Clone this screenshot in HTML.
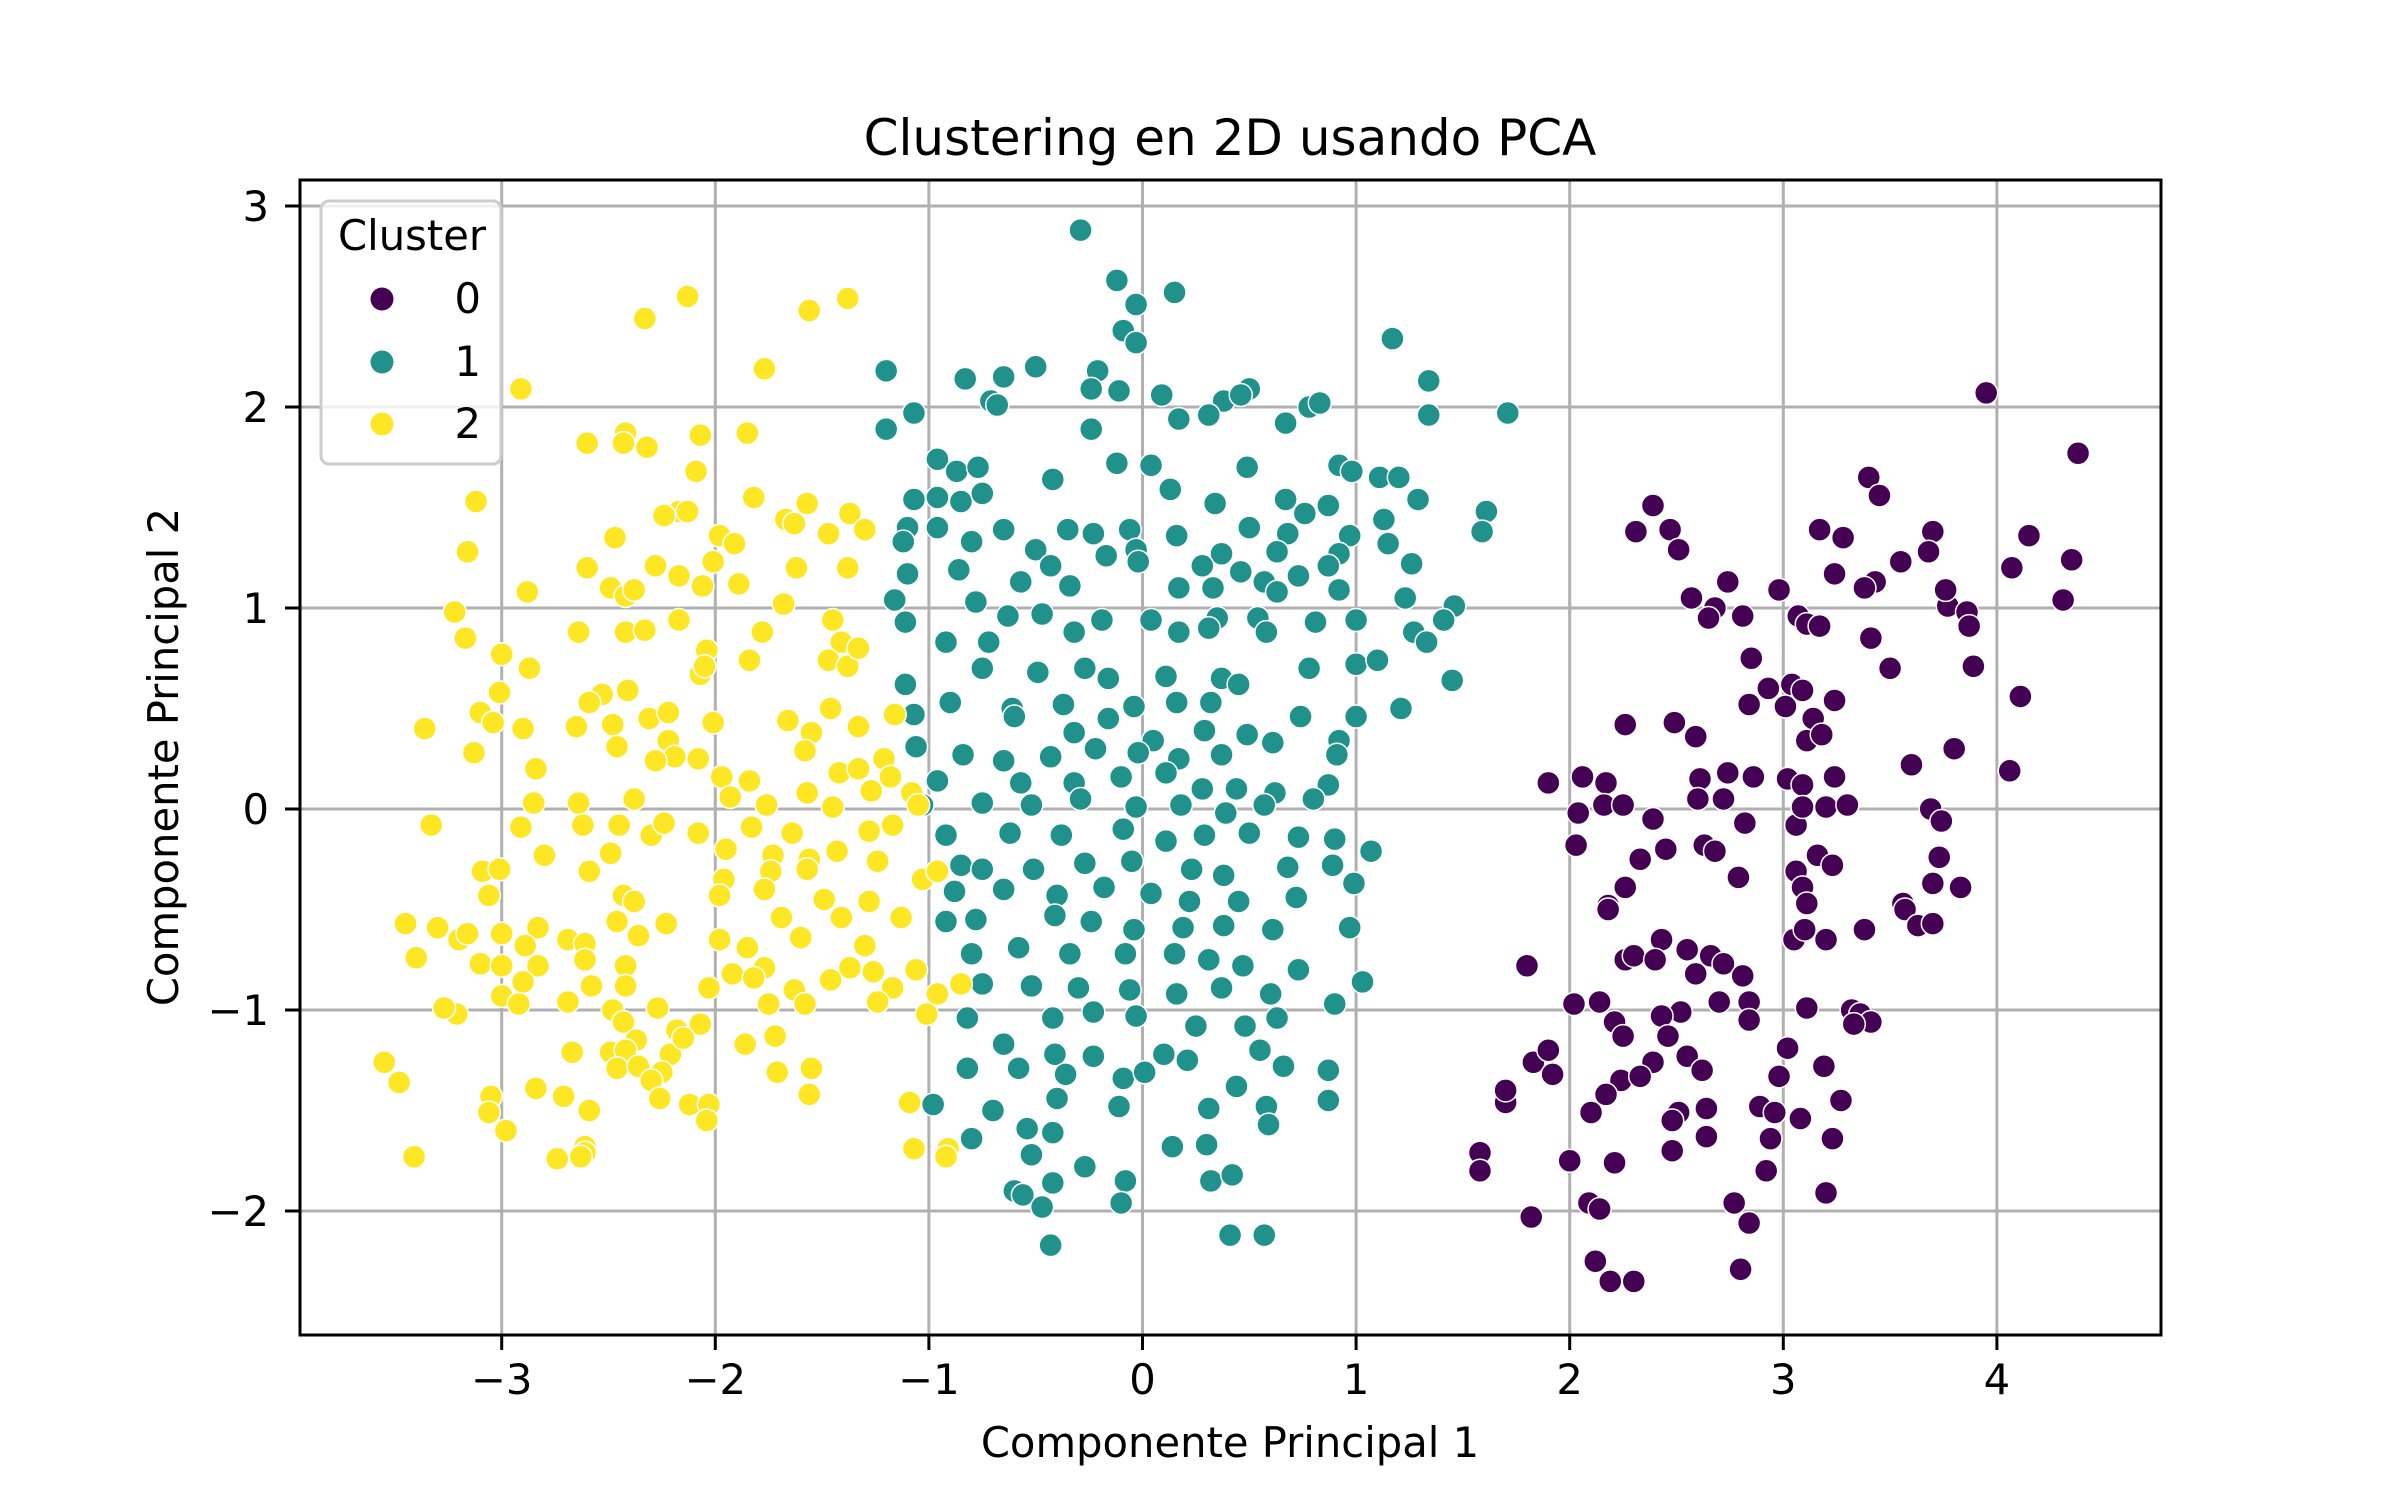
<!DOCTYPE html>
<html><head><meta charset="utf-8">
<style>
html,body{margin:0;padding:0;background:#fff;}
svg{display:block;font-family:"DejaVu Sans","Liberation Sans",sans-serif;}
</style></head>
<body>
<svg id="chart" width="2400" height="1500" viewBox="0 0 2400 1500" xmlns="http://www.w3.org/2000/svg">
<rect x="0" y="0" width="2400" height="1500" fill="#fff"/>
<g id="grid"></g>
<g id="points"></g>
<rect x="300" y="180" width="1861" height="1155" fill="none" stroke="#000" stroke-width="3"/>
<g id="ticks"></g>
<text x="1230" y="155" font-size="50" text-anchor="middle">Clustering en 2D usando PCA</text>
<text x="1230" y="1457" font-size="41.7" text-anchor="middle">Componente Principal 1</text>
<text x="178" y="757" font-size="41.7" text-anchor="middle" transform="rotate(-90 178 757)">Componente Principal 2</text>
<g>
<rect x="321" y="201" width="180" height="263" rx="8" fill="#fff" fill-opacity="0.8" stroke="#cccccc" stroke-width="3"/>
<text x="412" y="250" font-size="41.7" text-anchor="middle">Cluster</text>
<g><circle cx="382" cy="299" r="11.5" fill="#440154"/><text x="481" y="313" font-size="41.7" text-anchor="end">0</text></g>
<g><circle cx="382" cy="362" r="11.5" fill="#21918c"/><text x="481" y="376" font-size="41.7" text-anchor="end">1</text></g>
<g><circle cx="382" cy="424" r="11.5" fill="#fde725"/><text x="481" y="438" font-size="41.7" text-anchor="end">2</text></g>
</g>
</svg>
<script>
const xTicks = [-3,-2,-1,0,1,2,3,4];
const yTicks = [-2,-1,0,1,2,3];
const xTickLabels = ["\u22123","\u22122","\u22121","0","1","2","3","4"];
const yTickLabels = ["\u22122","\u22121","0","1","2","3"];
const clusterColors = ["#440154","#21918c","#fde725"];
const cluster0 = [[3.95,2.07],[4.38,1.77],[3.40,1.65],[3.45,1.56],[2.39,1.51],[2.47,1.39],[2.31,1.38],[2.51,1.29],[3.17,1.39],[3.28,1.35],[3.70,1.38],[3.68,1.28],[4.15,1.36],[4.07,1.20],[4.35,1.24],[3.24,1.17],[3.43,1.13],[3.38,1.10],[2.98,1.09],[2.74,1.13],[2.57,1.05],[2.68,1.00],[2.65,0.95],[2.81,0.96],[3.07,0.96],[3.11,0.92],[3.17,0.91],[3.77,1.01],[3.86,0.98],[3.87,0.91],[3.55,1.23],[3.76,1.09],[4.31,1.04],[2.85,0.75],[3.41,0.85],[3.50,0.70],[3.89,0.71],[4.11,0.56],[2.93,0.60],[3.04,0.62],[3.09,0.59],[3.01,0.51],[3.14,0.45],[3.24,0.54],[2.84,0.52],[2.26,0.42],[2.49,0.43],[2.59,0.36],[3.11,0.34],[3.18,0.37],[3.80,0.30],[3.60,0.22],[4.06,0.19],[1.90,0.13],[2.06,0.16],[2.17,0.13],[2.61,0.15],[2.74,0.18],[2.86,0.16],[3.02,0.15],[3.24,0.16],[3.09,0.12],[2.60,0.05],[2.72,0.05],[2.16,0.02],[2.25,0.02],[2.39,-0.05],[2.04,-0.02],[2.82,-0.07],[3.06,-0.08],[3.09,0.01],[3.20,0.01],[3.30,0.02],[3.69,0],[3.74,-0.06],[2.03,-0.18],[2.45,-0.20],[2.33,-0.25],[2.63,-0.18],[2.68,-0.21],[3.16,-0.23],[3.73,-0.24],[3.23,-0.28],[3.06,-0.31],[2.79,-0.34],[2.26,-0.39],[3.09,-0.39],[3.83,-0.39],[3.70,-0.37],[2.18,-0.48],[2.18,-0.50],[3.11,-0.47],[3.56,-0.47],[3.57,-0.50],[3.38,-0.60],[3.63,-0.58],[3.70,-0.57],[2.43,-0.65],[3.05,-0.65],[3.20,-0.65],[3.10,-0.60],[1.80,-0.78],[2.26,-0.75],[2.30,-0.73],[2.40,-0.75],[2.55,-0.70],[2.66,-0.73],[2.72,-0.77],[2.59,-0.82],[2.81,-0.83],[2.52,-1.01],[2.70,-0.96],[2.84,-0.96],[3.11,-0.99],[3.32,-1.00],[3.36,-1.02],[3.41,-1.06],[2.02,-0.97],[2.14,-0.96],[2.21,-1.06],[2.43,-1.03],[2.25,-1.13],[2.39,-1.26],[2.46,-1.13],[2.84,-1.05],[3.02,-1.19],[3.19,-1.28],[3.33,-1.07],[1.83,-1.26],[1.92,-1.32],[1.90,-1.20],[1.70,-1.46],[1.70,-1.40],[2.24,-1.35],[2.33,-1.33],[2.55,-1.23],[2.62,-1.30],[2.98,-1.33],[2.89,-1.48],[3.27,-1.45],[2.17,-1.42],[2.10,-1.51],[2.51,-1.51],[2.64,-1.49],[2.48,-1.55],[2.96,-1.51],[3.08,-1.54],[3.23,-1.64],[2.94,-1.64],[2.48,-1.70],[2.64,-1.63],[2.92,-1.80],[2.00,-1.75],[1.58,-1.71],[1.58,-1.80],[2.21,-1.76],[3.20,-1.91],[2.09,-1.96],[2.14,-1.99],[2.77,-1.96],[2.84,-2.06],[1.82,-2.03],[2.12,-2.25],[2.19,-2.35],[2.30,-2.35],[2.80,-2.29]];
const cluster1 = [[-0.29,2.88],[-0.12,2.63],[0.15,2.57],[-0.03,2.51],[-0.09,2.38],[-0.03,2.32],[1.17,2.34],[-1.20,2.18],[-0.50,2.20],[-0.21,2.18],[-0.83,2.14],[-0.65,2.15],[-0.24,2.09],[-0.11,2.08],[0.09,2.06],[0.38,2.03],[0.50,2.09],[1.34,2.13],[-0.71,2.03],[-0.68,2.01],[0.46,2.06],[0.31,1.96],[0.17,1.94],[0.67,1.92],[0.78,2.00],[0.83,2.02],[1.34,1.96],[1.71,1.97],[-1.07,1.97],[-1.20,1.89],[-0.24,1.89],[-0.96,1.74],[-0.87,1.68],[-0.77,1.70],[-0.12,1.72],[0.04,1.71],[0.49,1.70],[0.92,1.71],[0.98,1.68],[1.11,1.65],[1.20,1.65],[-0.42,1.64],[-1.07,1.54],[-0.96,1.55],[-0.85,1.53],[-0.75,1.57],[0.13,1.59],[0.34,1.52],[0.67,1.54],[0.87,1.51],[1.29,1.54],[1.61,1.48],[0.76,1.47],[1.13,1.44],[-1.10,1.40],[-0.96,1.40],[-0.65,1.39],[-0.35,1.39],[-0.23,1.37],[-0.06,1.39],[0.16,1.36],[0.50,1.40],[0.68,1.37],[0.97,1.36],[-1.12,1.33],[-0.80,1.33],[-0.50,1.29],[-0.03,1.29],[0.37,1.27],[0.63,1.28],[0.92,1.27],[1.15,1.32],[1.59,1.38],[-0.86,1.19],[-0.43,1.21],[-0.17,1.26],[-0.02,1.23],[0.28,1.21],[0.46,1.18],[0.73,1.16],[0.87,1.21],[-1.10,1.17],[1.26,1.22],[-0.57,1.13],[-0.34,1.11],[0.17,1.10],[0.33,1.10],[0.57,1.13],[0.63,1.08],[0.92,1.09],[1.23,1.05],[1.46,1.01],[-1.16,1.04],[-0.78,1.03],[-0.63,0.96],[-0.47,0.97],[-0.19,0.94],[0.04,0.94],[0.35,0.95],[0.54,0.95],[0.81,0.93],[1.00,0.94],[1.41,0.94],[-1.11,0.93],[-0.92,0.83],[-0.72,0.83],[-0.32,0.88],[0.17,0.88],[0.31,0.90],[0.58,0.88],[1.27,0.88],[1.33,0.83],[-1.11,0.62],[-0.75,0.70],[-0.49,0.68],[-0.27,0.70],[-0.16,0.65],[0.11,0.66],[0.37,0.65],[0.45,0.62],[0.78,0.70],[1.00,0.72],[1.10,0.74],[1.45,0.64],[-0.90,0.53],[-0.61,0.50],[-0.37,0.52],[-0.04,0.51],[0.16,0.53],[0.32,0.53],[0.74,0.46],[1.00,0.46],[1.21,0.50],[-1.07,0.47],[-0.60,0.46],[-0.32,0.38],[-0.16,0.45],[0.05,0.34],[0.29,0.39],[0.49,0.37],[0.61,0.33],[0.92,0.34],[-1.06,0.31],[-0.84,0.27],[-0.65,0.24],[-0.43,0.26],[-0.22,0.30],[-0.02,0.28],[0.17,0.25],[0.37,0.27],[0.91,0.27],[-0.96,0.14],[-0.57,0.13],[-0.32,0.13],[-0.10,0.16],[0.11,0.18],[0.28,0.10],[0.44,0.10],[0.62,0.08],[0.87,0.12],[-1.03,0.02],[-0.75,0.03],[-0.52,0.02],[-0.29,0.05],[-0.03,0.01],[0.18,0.02],[0.39,-0.02],[0.57,0.02],[0.80,0.05],[-0.92,-0.13],[-0.62,-0.12],[-0.38,-0.13],[-0.09,-0.10],[0.11,-0.16],[0.29,-0.13],[0.50,-0.12],[0.73,-0.14],[0.90,-0.15],[1.07,-0.21],[-0.85,-0.28],[-0.75,-0.30],[-0.51,-0.30],[-0.27,-0.27],[-0.05,-0.26],[0.23,-0.30],[0.38,-0.33],[0.68,-0.29],[0.89,-0.28],[0.99,-0.37],[-0.88,-0.41],[-0.65,-0.40],[-0.40,-0.43],[-0.18,-0.39],[0.04,-0.42],[0.22,-0.46],[0.45,-0.46],[0.72,-0.44],[-0.92,-0.56],[-0.78,-0.55],[-0.41,-0.53],[-0.24,-0.56],[-0.04,-0.60],[0.19,-0.59],[0.38,-0.58],[0.61,-0.60],[0.97,-0.59],[-0.80,-0.72],[-0.58,-0.69],[-0.34,-0.72],[-0.08,-0.72],[0.15,-0.72],[0.31,-0.75],[0.47,-0.78],[0.73,-0.80],[-0.75,-0.87],[-0.52,-0.88],[-0.30,-0.89],[-0.06,-0.90],[0.16,-0.92],[0.37,-0.89],[0.60,-0.92],[1.03,-0.86],[0.90,-0.97],[-0.82,-1.04],[-0.42,-1.04],[-0.23,-1.01],[-0.03,-1.03],[0.25,-1.08],[0.48,-1.08],[0.63,-1.04],[-0.65,-1.17],[-0.41,-1.22],[-0.23,-1.23],[0.10,-1.22],[0.21,-1.25],[0.55,-1.20],[-0.82,-1.29],[-0.58,-1.29],[-0.36,-1.32],[-0.09,-1.34],[0.01,-1.31],[0.44,-1.38],[0.66,-1.28],[0.87,-1.30],[0.87,-1.45],[-0.98,-1.47],[-0.70,-1.50],[-0.40,-1.44],[-0.11,-1.48],[0.31,-1.49],[0.58,-1.48],[-0.80,-1.64],[-0.54,-1.59],[-0.42,-1.61],[0.14,-1.68],[0.30,-1.67],[0.59,-1.57],[-0.92,-1.71],[-0.52,-1.72],[-0.27,-1.78],[-0.08,-1.85],[0.32,-1.85],[0.42,-1.82],[-0.60,-1.90],[-0.56,-1.92],[-0.42,-1.86],[-0.10,-1.96],[-0.47,-1.98],[-0.43,-2.17],[0.41,-2.12],[0.57,-2.12]];
const cluster2 = [[-2.91,2.09],[-2.33,2.44],[-2.13,2.55],[-1.56,2.48],[-1.38,2.54],[-1.77,2.19],[-2.42,1.87],[-2.43,1.82],[-2.60,1.82],[-2.32,1.80],[-2.07,1.86],[-1.85,1.87],[-2.09,1.68],[-3.12,1.53],[-3.16,1.28],[-2.17,1.48],[-2.13,1.48],[-2.24,1.46],[-1.82,1.55],[-1.57,1.52],[-1.37,1.47],[-1.67,1.44],[-1.63,1.42],[-1.47,1.37],[-1.30,1.39],[-1.98,1.36],[-1.91,1.32],[-2.01,1.23],[-2.47,1.35],[-2.60,1.20],[-2.28,1.21],[-2.17,1.16],[-1.62,1.20],[-1.38,1.20],[-2.88,1.08],[-2.49,1.10],[-2.42,1.06],[-2.38,1.09],[-1.89,1.12],[-2.06,1.11],[-3.22,0.98],[-3.17,0.85],[-2.64,0.88],[-2.42,0.88],[-2.33,0.89],[-2.17,0.94],[-1.68,1.02],[-1.45,0.94],[-1.78,0.88],[-1.41,0.83],[-3.00,0.77],[-2.87,0.70],[-1.84,0.74],[-2.04,0.79],[-1.47,0.74],[-1.38,0.71],[-1.33,0.80],[-2.07,0.67],[-2.41,0.59],[-2.53,0.57],[-2.59,0.53],[-3.01,0.58],[-2.31,0.45],[-2.22,0.48],[-2.01,0.43],[-2.48,0.42],[-2.65,0.41],[-3.36,0.40],[-3.10,0.48],[-3.04,0.43],[-2.90,0.40],[-1.66,0.44],[-1.55,0.38],[-1.46,0.50],[-1.33,0.41],[-1.16,0.47],[-2.46,0.31],[-2.22,0.34],[-2.19,0.26],[-2.08,0.25],[-1.58,0.29],[-1.21,0.25],[-3.13,0.28],[-2.84,0.20],[-2.28,0.24],[-1.97,0.16],[-1.84,0.14],[-1.42,0.18],[-1.33,0.20],[-1.18,0.16],[-1.27,0.09],[-1.08,0.08],[-1.05,0.02],[-2.85,0.03],[-2.64,0.03],[-2.38,0.05],[-1.93,0.06],[-1.76,0.02],[-1.57,0.08],[-1.45,0.01],[-3.33,-0.08],[-2.91,-0.09],[-2.62,-0.08],[-2.45,-0.08],[-2.30,-0.13],[-2.24,-0.07],[-2.08,-0.12],[-1.83,-0.09],[-1.64,-0.12],[-1.28,-0.11],[-1.17,-0.08],[-2.80,-0.23],[-2.49,-0.22],[-1.95,-0.20],[-1.73,-0.23],[-1.56,-0.25],[-1.43,-0.21],[-1.24,-0.26],[-3.09,-0.31],[-3.01,-0.30],[-2.59,-0.31],[-1.96,-0.35],[-1.74,-0.31],[-1.57,-0.30],[-1.03,-0.35],[-0.96,-0.31],[-3.06,-0.43],[-2.43,-0.43],[-2.38,-0.46],[-1.98,-0.43],[-1.77,-0.40],[-1.49,-0.45],[-1.28,-0.46],[-3.45,-0.57],[-3.30,-0.59],[-3.00,-0.62],[-2.83,-0.59],[-2.46,-0.56],[-2.23,-0.57],[-1.69,-0.54],[-1.41,-0.54],[-1.13,-0.54],[-3.20,-0.65],[-3.16,-0.62],[-2.89,-0.68],[-2.69,-0.65],[-2.61,-0.67],[-2.36,-0.63],[-1.98,-0.65],[-1.85,-0.69],[-1.60,-0.64],[-1.30,-0.68],[-3.40,-0.74],[-3.10,-0.77],[-3.00,-0.78],[-2.83,-0.78],[-2.61,-0.75],[-2.42,-0.78],[-1.77,-0.79],[-1.37,-0.79],[-1.26,-0.81],[-1.06,-0.80],[-2.90,-0.86],[-2.58,-0.88],[-2.42,-0.88],[-2.03,-0.89],[-1.92,-0.82],[-1.82,-0.84],[-1.63,-0.90],[-1.46,-0.85],[-1.17,-0.89],[-0.85,-0.87],[-3.00,-0.93],[-3.21,-1.02],[-3.27,-0.99],[-2.92,-0.97],[-2.69,-0.96],[-2.48,-1.00],[-2.27,-0.99],[-1.75,-0.97],[-1.58,-0.97],[-1.24,-0.96],[-0.96,-0.92],[-1.01,-1.02],[-2.43,-1.06],[-2.18,-1.10],[-2.07,-1.07],[-2.37,-1.15],[-1.72,-1.13],[-1.86,-1.17],[-2.67,-1.21],[-2.49,-1.21],[-2.42,-1.20],[-2.21,-1.22],[-2.15,-1.14],[-2.46,-1.29],[-2.36,-1.28],[-2.25,-1.31],[-1.71,-1.31],[-1.55,-1.29],[-3.55,-1.26],[-3.48,-1.36],[-2.84,-1.39],[-2.30,-1.35],[-3.05,-1.43],[-2.26,-1.44],[-1.56,-1.42],[-2.71,-1.43],[-3.06,-1.51],[-2.59,-1.50],[-2.12,-1.47],[-2.03,-1.47],[-1.09,-1.46],[-2.04,-1.55],[-2.98,-1.60],[-2.61,-1.68],[-2.61,-1.71],[-1.07,-1.69],[-0.91,-1.69],[-3.41,-1.73],[-2.74,-1.74],[-2.63,-1.73],[-0.92,-1.73],[-2.05,0.71]];

const NS = "http://www.w3.org/2000/svg";
const X0 = 1142.5, XU = 213.6, Y0 = 809, YU = 201;
function sx(v){ return X0 + XU * v; }
function sy(v){ return Y0 - YU * v; }

const grid = document.getElementById('grid');
const ticks = document.getElementById('ticks');
xTicks.forEach((t, i) => {
  const gl = document.createElementNS(NS, 'line');
  
  
  gl.setAttribute('x1', sx(t)); gl.setAttribute('x2', sx(t));
  gl.setAttribute('y1', 180); gl.setAttribute('y2', 1335);
  gl.setAttribute('stroke', '#b0b0b0'); gl.setAttribute('stroke-width', '3');
  grid.appendChild(gl);
  const tk = document.createElementNS(NS, 'line');
  
  
  tk.setAttribute('x1', sx(t)); tk.setAttribute('x2', sx(t));
  tk.setAttribute('y1', 1335); tk.setAttribute('y2', 1350);
  tk.setAttribute('stroke', '#000'); tk.setAttribute('stroke-width', '3');
  ticks.appendChild(tk);
  const tx = document.createElementNS(NS, 'text');
  
  
  tx.setAttribute('x', sx(t)); tx.setAttribute('y', 1394);
  tx.setAttribute('font-size', '41.7'); tx.setAttribute('text-anchor', 'middle');
  tx.textContent = xTickLabels[i];
  ticks.appendChild(tx);
});
yTicks.forEach((t, i) => {
  const gl = document.createElementNS(NS, 'line');
  
  
  gl.setAttribute('x1', 300); gl.setAttribute('x2', 2161);
  gl.setAttribute('y1', sy(t)); gl.setAttribute('y2', sy(t));
  gl.setAttribute('stroke', '#b0b0b0'); gl.setAttribute('stroke-width', '3');
  grid.appendChild(gl);
  const tk = document.createElementNS(NS, 'line');
  
  
  tk.setAttribute('x1', 285); tk.setAttribute('x2', 300);
  tk.setAttribute('y1', sy(t)); tk.setAttribute('y2', sy(t));
  tk.setAttribute('stroke', '#000'); tk.setAttribute('stroke-width', '3');
  ticks.appendChild(tk);
  const tx = document.createElementNS(NS, 'text');
  
  
  tx.setAttribute('x', 269); tx.setAttribute('y', sy(t) + 15);
  tx.setAttribute('font-size', '41.7'); tx.setAttribute('text-anchor', 'end');
  tx.textContent = yTickLabels[i];
  ticks.appendChild(tx);
});

const pts = document.getElementById('points');
[cluster0, cluster1, cluster2].forEach((arr, ci) => {
  arr.forEach(p => {
    const c = document.createElementNS(NS, 'circle');
    
    
    c.setAttribute('cx', sx(p[0])); c.setAttribute('cy', sy(p[1]));
    c.setAttribute('r', 11.5);
    c.setAttribute('fill', clusterColors[ci]);
    c.setAttribute('stroke', '#fff'); c.setAttribute('stroke-width', '1.5');
    pts.appendChild(c);
  });
});
</script>
</body></html>
